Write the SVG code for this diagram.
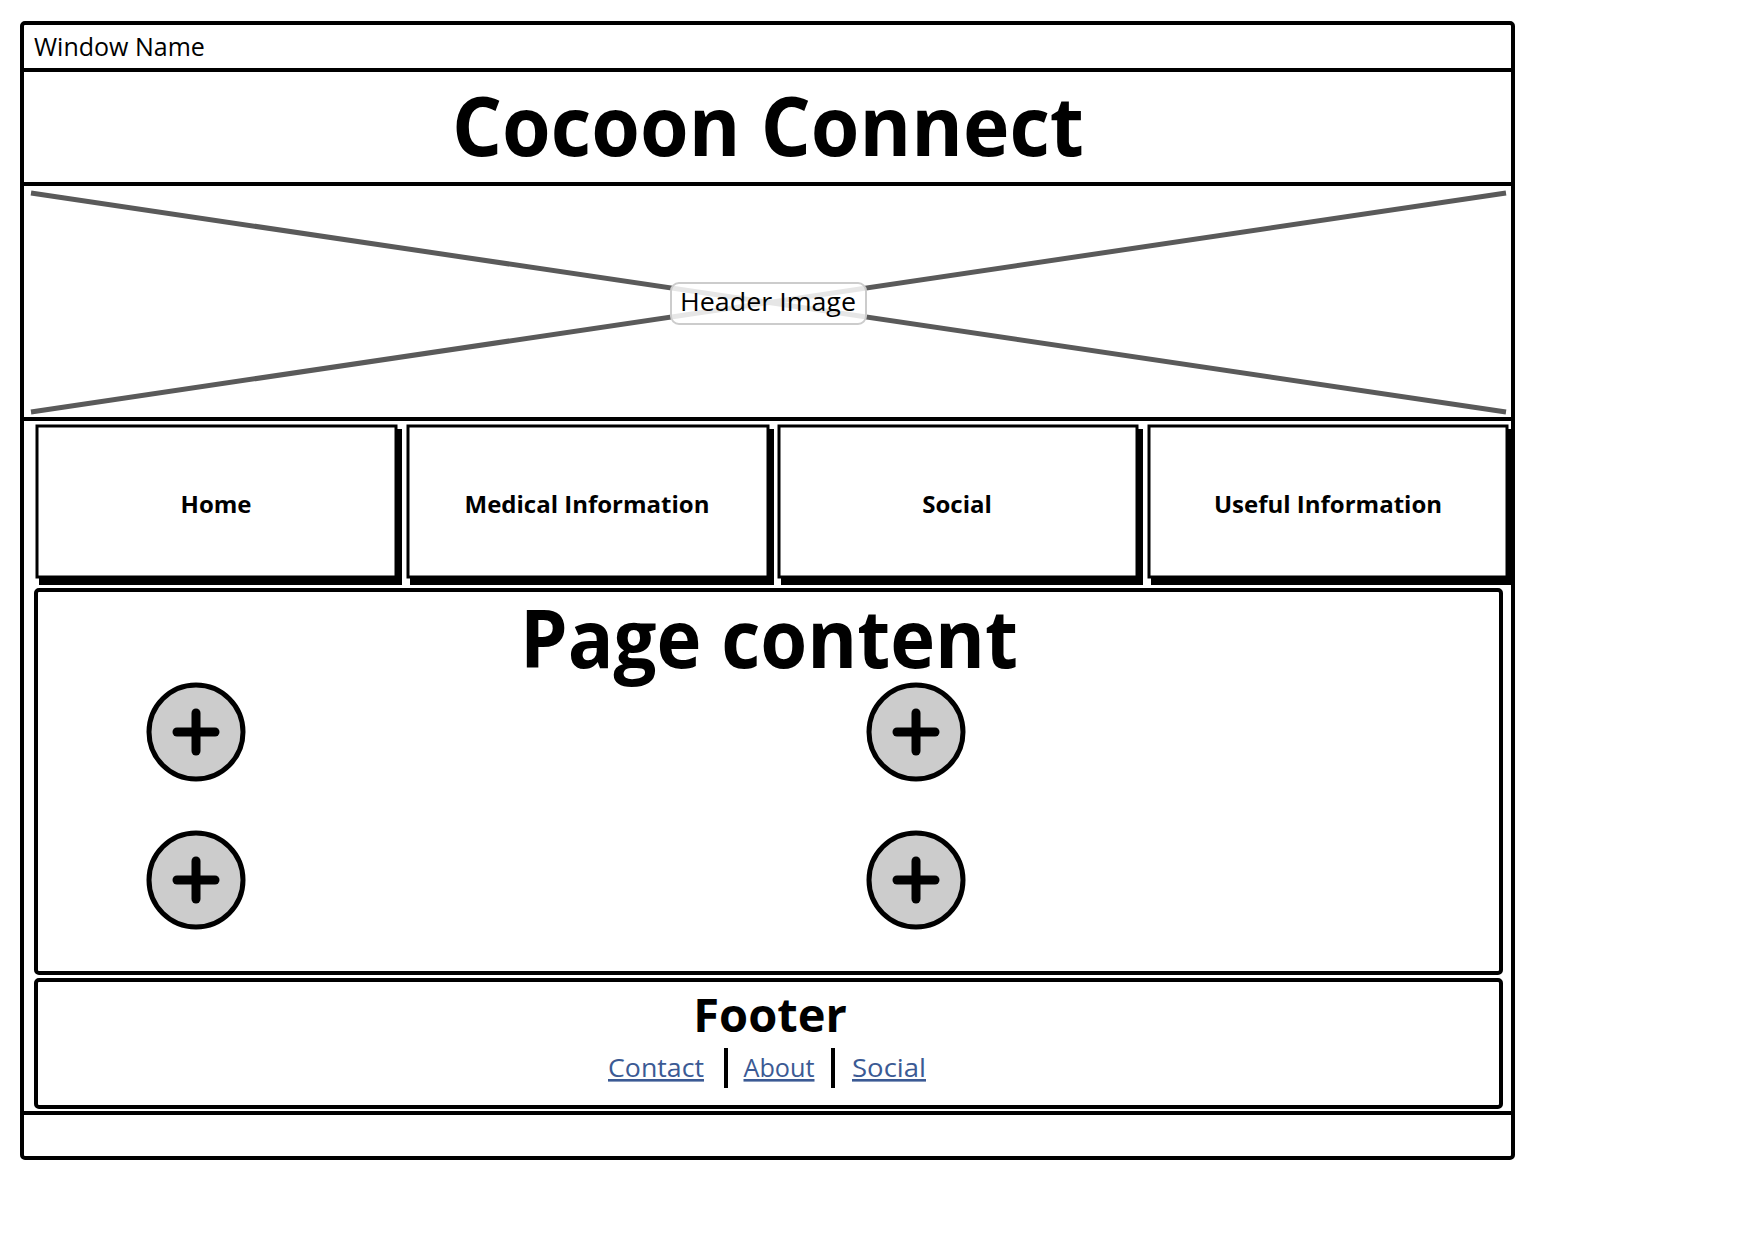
<svg xmlns="http://www.w3.org/2000/svg" width="1753" height="1240" viewBox="0 0 1753 1240">
<style>
.frame{fill:#fff;stroke:#000;stroke-width:4;stroke-linejoin:round}
.line{stroke:#000;stroke-width:4;fill:none}
.xline{stroke:#5a5a5a;stroke-width:5;fill:none}
.t{font-family:"Open Sans","Liberation Sans",sans-serif;fill:#000}
.b{font-weight:700}
.nav{fill:#fff;stroke:#000;stroke-width:3}
.navsh{fill:#000}
.link{font-family:"Open Sans","Liberation Sans",sans-serif;fill:#3b5a94;font-size:26px;text-decoration:underline}
.plus{fill:#ccc;stroke:#000;stroke-width:5}
.pl{stroke:#000;stroke-width:9;stroke-linecap:round}
</style>
<rect width="1753" height="1240" fill="#fff"/>
<g id="window">
<rect class="frame" x="22" y="23" width="1491" height="1135" rx="3"/>
<line class="line" x1="22" y1="70" x2="1513" y2="70"/>
<text class="t" x="34" y="56" font-size="25">Window Name</text>
<line class="line" x1="22" y1="1113" x2="1513" y2="1113"/>
</g>
<g id="title">
<line class="line" x1="22" y1="184" x2="1513" y2="184"/>
<text class="t b" x="768" y="156" font-size="82" text-anchor="middle" textLength="632" lengthAdjust="spacingAndGlyphs">Cocoon Connect</text>
</g>
<g id="header-image">
<line class="line" x1="22" y1="419" x2="1513" y2="419"/>
<line class="xline" x1="31" y1="193" x2="1506" y2="412"/>
<line class="xline" x1="31" y1="412" x2="1506" y2="193"/>
<rect x="671" y="283" width="195" height="41" rx="8" fill="#fff" fill-opacity="0.85" stroke="#ccc" stroke-width="2"/>
<text class="t" x="768" y="311" font-size="26" text-anchor="middle" textLength="176" lengthAdjust="spacingAndGlyphs">Header Image</text>
</g>
<g id="nav-home">
<rect class="navsh" x="39" y="429" width="363" height="156"/>
<rect class="nav" x="37" y="426" width="359" height="151"/>
<text class="t b" x="216" y="513" font-size="24" text-anchor="middle">Home</text>
</g>
<g id="nav-medical">
<rect class="navsh" x="410" y="429" width="364" height="156"/>
<rect class="nav" x="408" y="426" width="360" height="151"/>
<text class="t b" x="587" y="513" font-size="24" text-anchor="middle">Medical Information</text>
</g>
<g id="nav-social">
<rect class="navsh" x="781" y="429" width="362" height="156"/>
<rect class="nav" x="779" y="426" width="358" height="151"/>
<text class="t b" x="957" y="513" font-size="24" text-anchor="middle">Social</text>
</g>
<g id="nav-useful">
<rect class="navsh" x="1151" y="429" width="362" height="156"/>
<rect class="nav" x="1149" y="426" width="358" height="151"/>
<text class="t b" x="1328" y="513" font-size="24" text-anchor="middle">Useful Information</text>
</g>
<g id="page-content">
<rect class="frame" x="36" y="590" width="1465" height="383" rx="3"/>
<text class="t b" x="769" y="668" font-size="80" text-anchor="middle" textLength="498" lengthAdjust="spacingAndGlyphs">Page content</text>
</g>
<g id="add-1"><circle class="plus" cx="196" cy="732" r="47"/><line class="pl" x1="177" y1="732" x2="215" y2="732"/><line class="pl" x1="196" y1="713" x2="196" y2="751"/></g>
<g id="add-2"><circle class="plus" cx="916" cy="732" r="47"/><line class="pl" x1="897" y1="732" x2="935" y2="732"/><line class="pl" x1="916" y1="713" x2="916" y2="751"/></g>
<g id="add-3"><circle class="plus" cx="196" cy="880" r="47"/><line class="pl" x1="177" y1="880" x2="215" y2="880"/><line class="pl" x1="196" y1="861" x2="196" y2="899"/></g>
<g id="add-4"><circle class="plus" cx="916" cy="880" r="47"/><line class="pl" x1="897" y1="880" x2="935" y2="880"/><line class="pl" x1="916" y1="861" x2="916" y2="899"/></g>
<g id="footer">
<rect class="frame" x="36" y="980" width="1465" height="127" rx="3"/>
<text class="t b" x="770" y="1032" font-size="47" text-anchor="middle">Footer</text>
<text class="link" x="656" y="1077" text-anchor="middle" textLength="96" lengthAdjust="spacingAndGlyphs">Contact</text>
<line class="line" x1="726" y1="1048" x2="726" y2="1088"/>
<text class="link" x="779" y="1077" text-anchor="middle" textLength="71" lengthAdjust="spacingAndGlyphs">About</text>
<line class="line" x1="833" y1="1048" x2="833" y2="1088"/>
<text class="link" x="889" y="1077" text-anchor="middle" textLength="74" lengthAdjust="spacingAndGlyphs">Social</text>
</g>
<g id="connectors"></g>
</svg>
